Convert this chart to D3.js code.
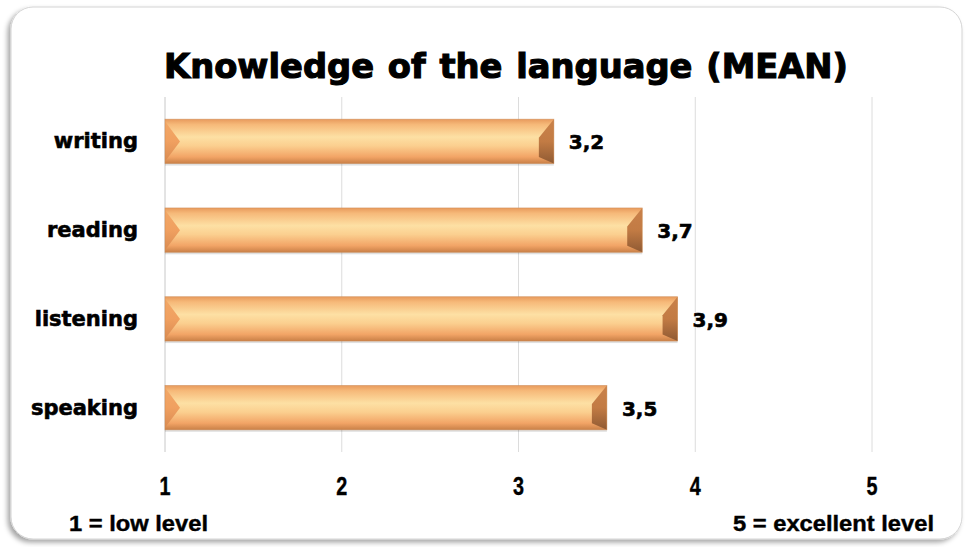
<!DOCTYPE html>
<html>
<head>
<meta charset="utf-8">
<script src="https://cdn.jsdelivr.net/npm/d3@7"></script>
<style>
  html, body { margin: 0; padding: 0; background: #ffffff; }
  svg { display: block; }
</style>
</head>
<body>
<svg id="chart" width="969" height="547"></svg>
<script>
const title = "Knowledge of the language (MEAN)";
const categories = ["writing", "reading", "listening", "speaking"];
const values = [3.2, 3.7, 3.9, 3.5];
const valueLabels = ["3,2", "3,7", "3,9", "3,5"];
const tickValues = [1, 2, 3, 4, 5];
const tickLabels = ["1", "2", "3", "4", "5"];
const noteLeft = "1 = low level";
const noteRight = "5 = excellent level";

const svg = d3.select("#chart");
const defs = svg.append("defs");

// frame shadow
const f = defs.append("filter").attr("id", "frameShadow").attr("x", "-5%").attr("y", "-5%").attr("width", "110%").attr("height", "110%");
f.append("feDropShadow").attr("dx", -3).attr("dy", 3).attr("stdDeviation", 2.5).attr("flood-color", "#000").attr("flood-opacity", 0.35);

svg.append("rect")
  .attr("x", 11).attr("y", 7).attr("width", 951).attr("height", 532)
  .attr("rx", 22).attr("ry", 22)
  .attr("fill", "#ffffff").attr("stroke", "#d4d4d4").attr("stroke-width", 1)
  .attr("filter", "url(#frameShadow)");

// gradients
const g1 = defs.append("linearGradient").attr("id", "barGrad").attr("x1", 0).attr("y1", 0).attr("x2", 0).attr("y2", 1);
[[0, "#e89a5c"], [0.12, "#f6b979"], [0.4, "#fde0a4"], [0.6, "#fbcf8f"], [0.85, "#f2a466"], [1, "#c98047"]]
  .forEach(([o, c]) => g1.append("stop").attr("offset", o).attr("stop-color", c));
const g2 = defs.append("linearGradient").attr("id", "endGrad").attr("x1", 0).attr("y1", 0).attr("x2", 0).attr("y2", 1);
[[0, "#c9814a"], [0.5, "#c27b44"], [1, "#8f5a33"]]
  .forEach(([o, c]) => g2.append("stop").attr("offset", o).attr("stop-color", c));
const g3 = defs.append("linearGradient").attr("id", "leftGrad").attr("x1", 0).attr("y1", 0).attr("x2", 0).attr("y2", 1);
[[0, "#f2a766"], [0.5, "#f0a060"], [1, "#d98b52"]]
  .forEach(([o, c]) => g3.append("stop").attr("offset", o).attr("stop-color", c));

const x = d3.scaleLinear().domain([1, 5]).range([165, 872]);
const y = d3.scaleBand().domain(categories).range([97, 452]).paddingInner(0.5).paddingOuter(0.25);

// gridlines
svg.append("g").selectAll("line").data(tickValues).join("line")
  .attr("x1", d => x(d)).attr("x2", d => x(d))
  .attr("y1", 97).attr("y2", 452)
  .attr("stroke", d => d === 1 ? "#c8c8c8" : "#dcdcdc").attr("stroke-width", 1);

const heavy = "'DejaVu Sans', Verdana, sans-serif";
const narrow = "'Liberation Sans', Arial, sans-serif";

// title
svg.append("text")
  .attr("x", 506).attr("y", 78)
  .attr("text-anchor", "middle")
  .attr("font-family", heavy)
  .attr("font-weight", "bold").attr("font-size", 33)
  .attr("word-spacing", 2)
  .attr("stroke", "#000").attr("stroke-width", 1.1)
  .attr("textLength", 684).attr("lengthAdjust", "spacingAndGlyphs")
  .attr("fill", "#000").text(title);

// bars
const bars = svg.append("g").selectAll("g").data(categories).join("g");
bars.each(function(c, i) {
  const gg = d3.select(this);
  const x0 = x(1), x1 = x(values[i]);
  const y0 = y(c), h = y.bandwidth();
  const b = 15;
  gg.append("rect").attr("x", x0).attr("y", y0 + 2).attr("width", x1 - x0).attr("height", h)
    .attr("fill", "#000").attr("opacity", 0.12);
  gg.append("rect").attr("x", x0).attr("y", y0).attr("width", x1 - x0).attr("height", h)
    .attr("fill", "url(#barGrad)");
  gg.append("polygon")
    .attr("points", [[x0, y0 + 2], [x0 + b, y0 + h / 2], [x0, y0 + h - 2]].map(p => p.join(",")).join(" "))
    .attr("fill", "url(#leftGrad)");
  gg.append("polygon")
    .attr("points", [[x1, y0], [x1 - b, y0 + h * 0.42], [x1 - b, y0 + h * 0.85], [x1, y0 + h]].map(p => p.join(",")).join(" "))
    .attr("fill", "url(#endGrad)");
  gg.append("rect").attr("x", x0).attr("y", y0).attr("width", x1 - x0).attr("height", h)
    .attr("fill", "none").attr("stroke", "#c98a55").attr("stroke-width", 0.8).attr("stroke-opacity", 0.6);
  gg.append("text")
    .attr("x", x1 + 15).attr("y", y0 + h / 2 + 8)
    .attr("font-family", heavy)
    .attr("font-weight", "bold").attr("font-size", 20).attr("fill", "#000")
    .attr("stroke", "#000").attr("stroke-width", 0.6)
    .text(valueLabels[i]);
});

// category labels
svg.append("g").selectAll("text").data(categories).join("text")
  .attr("x", 138).attr("y", d => y(d) + y.bandwidth() / 2 + 7)
  .attr("text-anchor", "end")
  .attr("font-family", heavy)
  .attr("font-weight", "bold").attr("font-size", 21).attr("fill", "#000")
  .attr("stroke", "#000").attr("stroke-width", 0.6)
  .text(d => d);

// x tick labels
svg.append("g").selectAll("text").data(tickValues).join("text")
  .attr("x", d => x(d)).attr("y", 495)
  .attr("text-anchor", "middle")
  .attr("font-family", narrow)
  .attr("font-weight", "bold").attr("font-size", 25).attr("fill", "#000")
  .attr("stroke", "#000").attr("stroke-width", 0.4)
  .attr("textLength", 11).attr("lengthAdjust", "spacingAndGlyphs")
  .text((d, i) => tickLabels[i]);

// notes
svg.append("text").attr("x", 69).attr("y", 531)
  .attr("font-family", narrow)
  .attr("font-weight", "bold").attr("font-size", 22).attr("fill", "#000")
  .attr("stroke", "#000").attr("stroke-width", 0.4)
  .attr("textLength", 139).attr("lengthAdjust", "spacingAndGlyphs")
  .text(noteLeft);
svg.append("text").attr("x", 934).attr("y", 531).attr("text-anchor", "end")
  .attr("font-family", narrow)
  .attr("font-weight", "bold").attr("font-size", 22).attr("fill", "#000")
  .attr("stroke", "#000").attr("stroke-width", 0.4)
  .attr("textLength", 201).attr("lengthAdjust", "spacingAndGlyphs")
  .text(noteRight);
</script>
</body>
</html>
